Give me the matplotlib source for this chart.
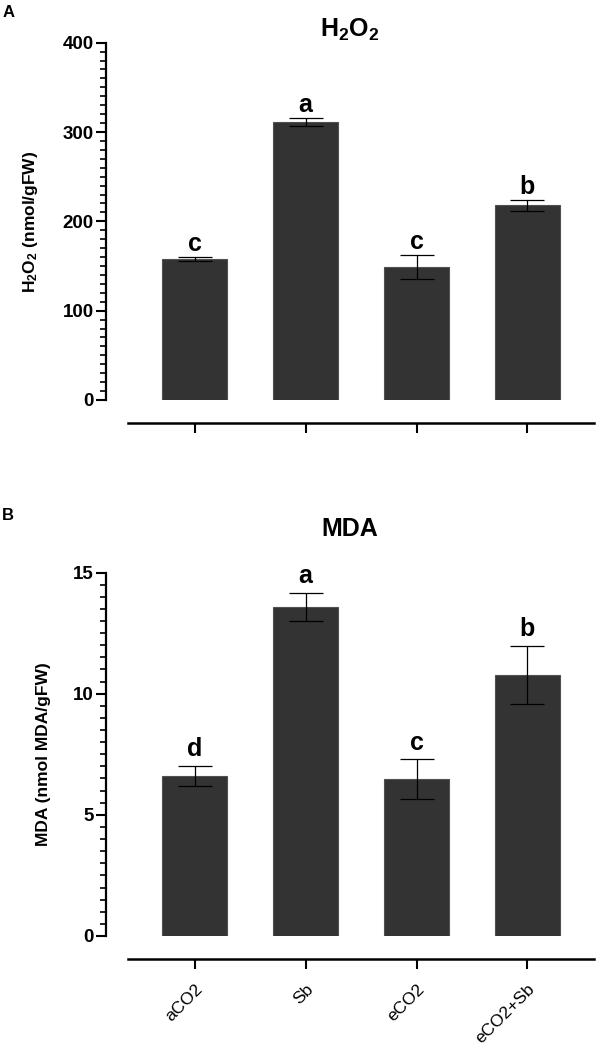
import matplotlib
matplotlib.use('Agg')
import matplotlib.pyplot as plt
from matplotlib.ticker import MultipleLocator
import numpy as np

categories = ['aCO2', 'Sb', 'eCO2', 'eCO2+Sb']
h2o2_mean = [158, 311.5, 149, 218]
h2o2_err = [2.3, 4.3, 13, 6]
h2o2_letters = ['c', 'a', 'c', 'b']
mda_mean = [6.61, 13.58, 6.47, 10.78]
mda_err = [0.41, 0.58, 0.82, 1.2]
mda_letters = ['d', 'a', 'c', 'b']

plt.rcParams['font.family'] = ['Liberation Sans', 'DejaVu Sans']
plt.rcParams['mathtext.fontset'] = 'custom'
plt.rcParams['mathtext.rm'] = 'Liberation Sans'
plt.rcParams['mathtext.bf'] = 'Liberation Sans:bold'

W, H = 604, 1051
fig = plt.figure(figsize=(W / 100, H / 100), dpi=100)


def axes_px(left, top, right, bottom):
    return fig.add_axes([left / W, 1 - bottom / H, (right - left) / W, (bottom - top) / H])


def draw(ax, means, errs, letters, ymax, major, minor, title, title_pad,
         ylabel, letter_off, show_xlabels):
    x = np.arange(len(categories))
    ax.bar(x, means, width=0.59, color='#333333', edgecolor='#505050',
           linewidth=0.8, zorder=2)
    ax.errorbar(x, means, yerr=errs, fmt='none', ecolor='black',
                elinewidth=0.9, capsize=12, capthick=0.9, zorder=3)
    for xi, m, e, l in zip(x, means, errs, letters):
        ax.annotate(l, (xi, m + e), xytext=(0, letter_off),
                    textcoords='offset points', ha='center', va='baseline',
                    fontsize=18, fontweight='bold')
    ax.set_xlim(-0.8, 3.6)
    ax.set_ylim(0, ymax)
    ax.yaxis.set_major_locator(MultipleLocator(major))
    ax.yaxis.set_minor_locator(MultipleLocator(minor))
    for s in ('top', 'right'):
        ax.spines[s].set_visible(False)
    ax.spines['left'].set_linewidth(1.6)
    ax.spines['bottom'].set_linewidth(1.8)
    ax.spines['bottom'].set_position(('outward', 16.5))
    ax.spines['bottom'].set_bounds(-0.6, 3.6)
    ax.tick_params(axis='y', which='major', length=7, width=1.5,
                   labelsize=13.5, pad=2)
    ax.tick_params(axis='y', which='minor', length=4.5, width=1.2)
    ax.tick_params(axis='x', length=7, width=1.5, pad=9)
    for t in ax.get_yticklabels():
        t.set_fontweight('bold')
    ax.set_xticks(x)
    if show_xlabels:
        ax.set_xticklabels(categories, rotation=45, ha='right',
                           rotation_mode='anchor', fontsize=12.5)
    else:
        ax.set_xticklabels([])
    ax.set_ylabel(ylabel, fontsize=12.5, fontweight='bold', labelpad=16)
    ax.set_title(title, fontsize=18, fontweight='bold', pad=title_pad)


axA = axes_px(106, 42.7, 594, 400)
axB = axes_px(106, 572.5, 594, 936)

draw(axA, h2o2_mean, h2o2_err, h2o2_letters, 400, 100, 10,
     r'$\mathbf{H_2O_2}$', 2.5, r'$\mathbf{H_2O_2}$ (nmol/gFW)', 4.5, False)
draw(axB, mda_mean, mda_err, mda_letters, 15, 5, 0.5,
     'MDA', 26.5, 'MDA (nmol MDA/gFW)', 7, True)

fig.text(3 / W, 1 - 17 / H, 'A', fontsize=12, fontweight='bold', va='baseline')
fig.text(2 / W, 1 - 520 / H, 'B', fontsize=12, fontweight='bold', va='baseline')

fig.savefig('out.png', dpi=100)
